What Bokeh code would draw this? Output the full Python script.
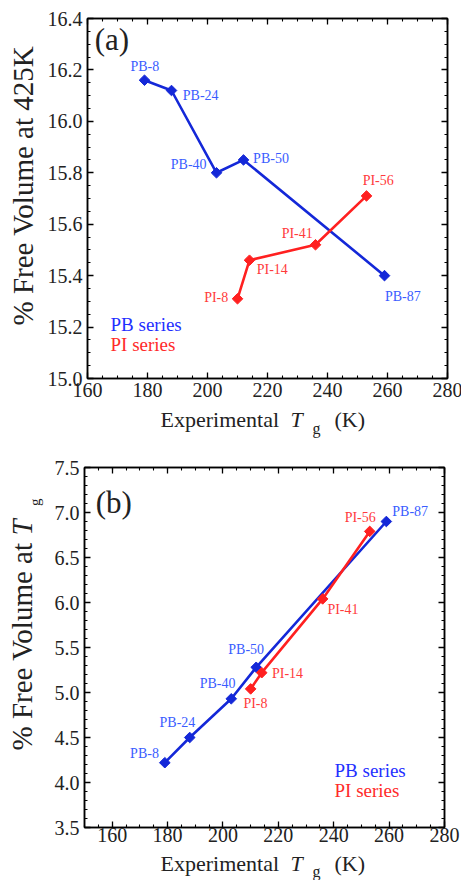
import numpy as np
from bokeh.plotting import figure
from bokeh.layouts import column, row
from bokeh.models import (ColumnDataSource, Label, LinearAxis, SingleIntervalTicker,
                          NumeralTickFormatter, CustomJSTickFormatter)
from bokeh.core.properties import value
from bokeh.embed import file_html
from bokeh.resources import INLINE

# ---------------- data ----------------
pb_names = ["PB-8", "PB-24", "PB-40", "PB-50", "PB-87"]
pb_tg = [179, 188, 203, 212, 259]
pb_fv425 = [16.16, 16.12, 15.80, 15.85, 15.40]
pb_tg_b = [179, 188, 203, 212, 259]
pb_fvtg = [4.22, 4.50, 4.93, 5.28, 6.90]

pi_names = ["PI-8", "PI-14", "PI-41", "PI-56"]
pi_tg = [210, 214, 236, 253]
pi_fv425 = [15.31, 15.46, 15.52, 15.71]
pi_tg_b = [210, 214, 236, 253]
pi_fvtg = [5.04, 5.22, 6.04, 6.79]

# ---------------- styles ----------------
FONT = "Liberation Serif"
FONT_V = value(FONT)
BLUE_LINE = "#1428d8"
BLUE_TEXT = "#3a5cff"
BLUE_LEG = "#1f2fff"
RED_LINE = "#ff2020"
RED_TEXT = "#ff3b3b"
RED_LEG = "#ff2a2a"
DARK = "#222222"

# label centre offsets (dx, dy in px) per point
pb_off_a = [(0.3, -13.7), (29.2, 5.0), (-27.8, -8.0), (27.5, -1.7), (18.3, 21.3)]
pi_off_a = [(-21.3, -1.0), (22.8, 9.3), (-18.3, -11.4), (11.7, -15.7)]
pb_off_b = [(-20.3, -9.1), (-12.3, -14.7), (-13.7, -15.7), (-10.0, -18.1), (23.8, -10.4)]
pi_off_b = [(4.8, 14.3), (25.8, 0.3), (20.3, 10.9), (-9.5, -13.7)]


def style_axes(p, xint, xminor, yint, yminor, xfmt, yfmt, xstandoff):
    p.xgrid.visible = False
    p.ygrid.visible = False
    p.outline_line_color = "black"
    p.outline_line_width = 1.5
    p.add_layout(LinearAxis(), "above")
    p.add_layout(LinearAxis(), "right")
    for ax in p.xaxis:
        ax.ticker = SingleIntervalTicker(interval=xint, num_minor_ticks=xminor)
    for ax in p.yaxis:
        ax.ticker = SingleIntervalTicker(interval=yint, num_minor_ticks=yminor)
    for ax in list(p.xaxis) + list(p.yaxis):
        ax.axis_line_color = "black"
        ax.axis_line_width = 1.5
        ax.major_tick_in = 6
        ax.major_tick_out = 0
        ax.minor_tick_in = 3
        ax.minor_tick_out = 0
        ax.major_tick_line_color = "black"
        ax.minor_tick_line_color = "black"
        ax.major_tick_line_width = 1.3
        ax.minor_tick_line_width = 1.1
        ax.major_label_text_font = FONT
        ax.major_label_text_font_size = "20px"
        ax.major_label_text_color = DARK
    p.below[0].formatter = NumeralTickFormatter(format=xfmt)
    p.left[0].formatter = NumeralTickFormatter(format=yfmt)
    p.below[0].major_label_standoff = xstandoff
    p.left[0].major_label_standoff = 5
    for ax in (p.above[0], p.right[0]):
        ax.formatter = CustomJSTickFormatter(code="return ''")
        ax.major_label_standoff = 0


def add_label(p, text, sx, sy, size, color=DARK, style="normal", align="left", angle=0.0):
    p.add_layout(Label(x=sx, y=sy, x_units="screen", y_units="screen", text=text,
                       text_font=FONT, text_font_size=f"{size}px", text_color=color,
                       text_font_style=style, text_align=align, text_baseline="middle",
                       angle=angle))


def add_series(p, xs, ys, names, offs, line_color, text_color):
    src = ColumnDataSource(dict(x=xs, y=ys, name=names,
                                dx=[o[0] for o in offs],
                                dy=[o[1] for o in offs]))
    p.line("x", "y", source=src, line_color=line_color, line_width=2.6)
    p.scatter("x", "y", source=src, marker="square", angle=np.pi / 4, size=7.5,
              fill_color=line_color, line_color=line_color)
    p.text("x", "y", text="name", source=src, text_align="center", text_baseline="middle",
           x_offset="dx", y_offset="dy", text_font_size="14px", text_color=text_color,
           text_font=FONT_V)


def text_panel(width, height):
    t = figure(width=width, height=height, x_axis_location=None, y_axis_location=None,
               min_border=0, toolbar_location=None, output_backend="svg",
               x_range=(0, 1), y_range=(0, 1))
    t.outline_line_color = None
    t.xgrid.visible = False
    t.ygrid.visible = False
    return t


# ---------------- panel (a) ----------------
p1 = figure(frame_width=360, frame_height=360, x_range=(160, 280), y_range=(15.0, 16.400001),
            output_backend="svg", toolbar_location=None,
            min_border_left=40, min_border_right=17, min_border_top=18, min_border_bottom=28)
style_axes(p1, 20, 4, 0.2, 4, "0", "0.0", 4)
add_series(p1, pb_tg, pb_fv425, pb_names, pb_off_a, BLUE_LINE, BLUE_TEXT)
add_series(p1, pi_tg, pi_fv425, pi_names, pi_off_a, RED_LINE, RED_TEXT)
add_label(p1, "(a)", 7.2, 338.9, 31)
add_label(p1, "PB series", 23, 54.4, 19, BLUE_LEG)
add_label(p1, "PI series", 23, 33.7, 19, RED_LEG)

ya = text_panel(44, 406)
add_label(ya, "% Free Volume at 425K", 22.2, 53, 29, angle=np.pi / 2)

xa = text_panel(461, 34)
add_label(xa, "Experimental", 160, 21.4, 22)
add_label(xa, "T", 290, 21.4, 22, style="italic")
add_label(xa, "g", 312, 12.4, 16)
add_label(xa, "(K)", 334, 21.4, 22)

# ---------------- panel (b) ----------------
p2 = figure(frame_width=360, frame_height=360, x_range=(150, 280), y_range=(3.5, 7.5),
            output_backend="svg", toolbar_location=None,
            min_border_left=40, min_border_right=17, min_border_top=27, min_border_bottom=23)
style_axes(p2, 20, 4, 0.5, 5, "0", "0.0", 0)
add_series(p2, pb_tg_b, pb_fvtg, pb_names, pb_off_b, BLUE_LINE, BLUE_TEXT)
add_series(p2, pi_tg_b, pi_fvtg, pi_names, pi_off_b, RED_LINE, RED_TEXT)
add_label(p2, "(b)", 11.2, 325.4, 31)
add_label(p2, "PB series", 250, 56.7, 19, BLUE_LEG)
add_label(p2, "PI series", 250, 36.7, 19, RED_LEG)

yb = text_panel(44, 410)
add_label(yb, "% Free Volume at", 21.9, 77, 29, angle=np.pi / 2)
add_label(yb, "T", 21.9, 292, 29, style="italic", angle=np.pi / 2)
add_label(yb, "g", 34.8, 321.5, 15, angle=np.pi / 2)

xb = text_panel(461, 30)
add_label(xb, "Experimental", 160, 16.9, 22)
add_label(xb, "T", 290, 16.9, 22, style="italic")
add_label(xb, "g", 312, 9.4, 16)
add_label(xb, "(K)", 334, 16.9, 22)

layout = column(row(ya, p1), xa, row(yb, p2), xb)
open("out.html", "w").write(file_html(layout, INLINE))
